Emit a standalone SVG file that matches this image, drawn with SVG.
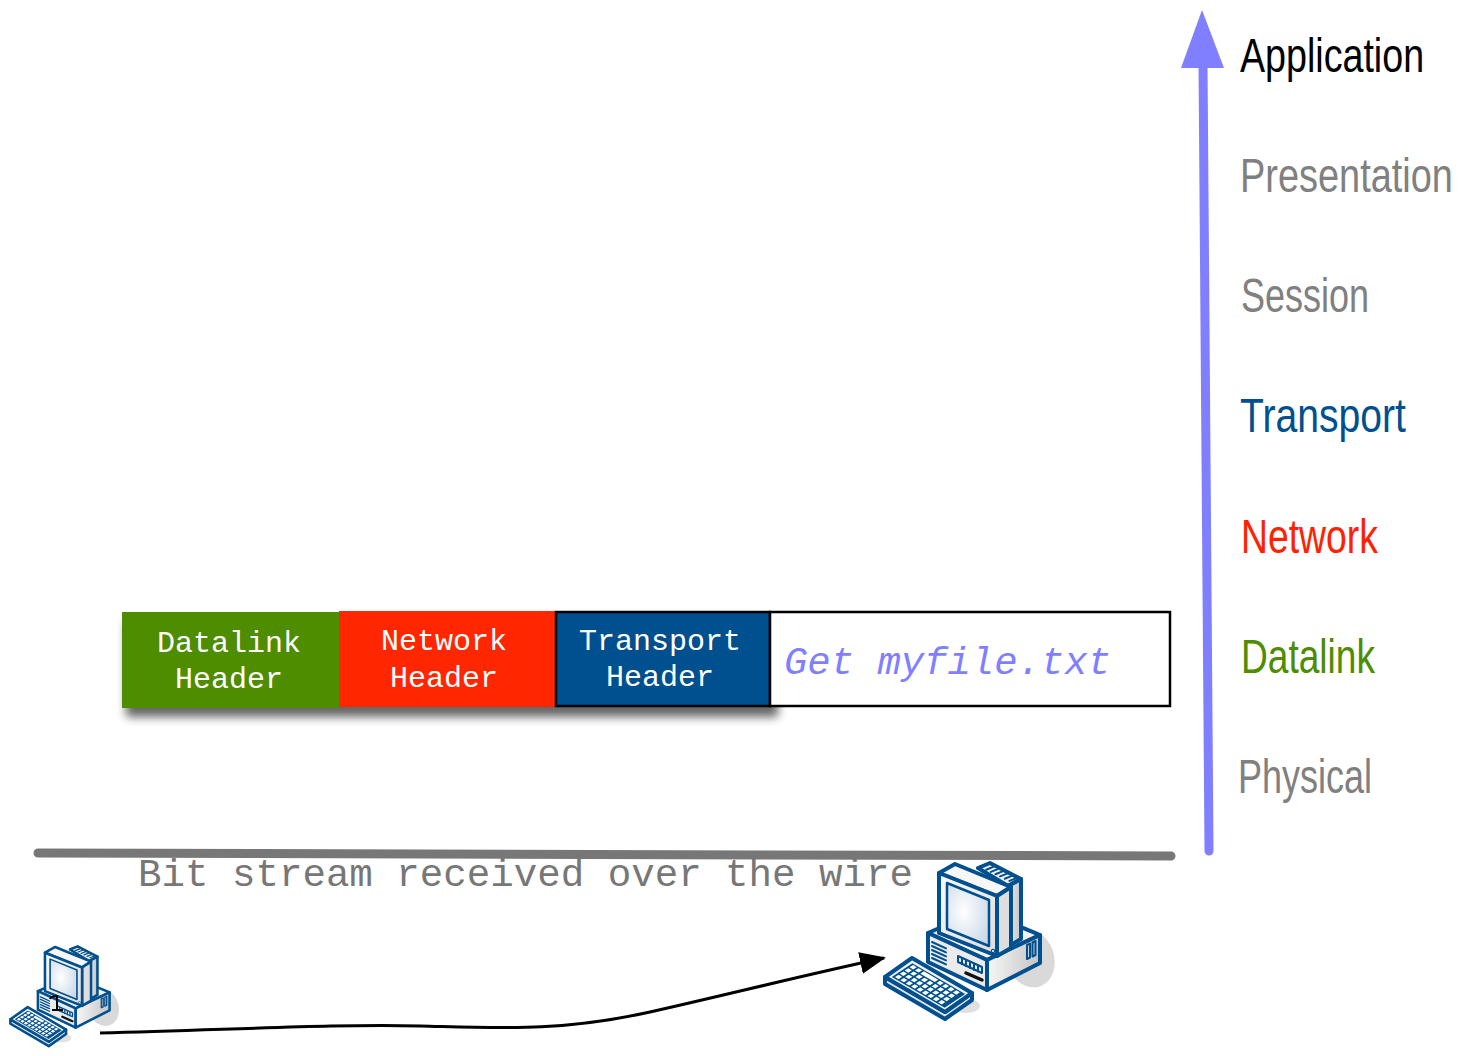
<svg xmlns="http://www.w3.org/2000/svg" xmlns:xlink="http://www.w3.org/1999/xlink" width="1459" height="1056" viewBox="0 0 1459 1056">
  <style>
    .layer { font-family: "Liberation Sans", Arial, sans-serif; font-size: 48px; }
    .hdr { font-family: "Liberation Mono", "DejaVu Sans Mono", monospace; font-size: 30px; fill: #ffffff; text-anchor: middle; }
    .mono { font-family: "Liberation Mono", "DejaVu Sans Mono", monospace; font-size: 39px; }
    .ol { stroke: #00508f; stroke-width: 4; stroke-linejoin: round; stroke-linecap: round; }
    .il { stroke: #00508f; stroke-width: 2; stroke-linejoin: round; stroke-linecap: round; fill: none; }
  </style>
  <defs>
    <marker id="arrow" markerUnits="userSpaceOnUse" markerWidth="26" markerHeight="22" refX="24" refY="11" orient="auto">
      <path d="M0,0 L26,11 L0,22 Z" fill="#000"/>
    </marker>
    <filter id="shadow" x="-10%" y="-30%" width="120%" height="160%">
      <feGaussianBlur stdDeviation="5"/>
    </filter>
    <radialGradient id="screen" cx="0.4" cy="0.45" r="0.7">
      <stop offset="0" stop-color="#ffffff"/>
      <stop offset="1" stop-color="#c9d7e8"/>
    </radialGradient>
    <linearGradient id="sideGrad" x1="0" y1="0" x2="1" y2="0">
      <stop offset="0" stop-color="#f7f7f7"/>
      <stop offset="1" stop-color="#c4c4c4"/>
    </linearGradient>
    <linearGradient id="faceGrad" x1="0" y1="0" x2="1" y2="1">
      <stop offset="0" stop-color="#fafafa"/>
      <stop offset="1" stop-color="#dcdcdc"/>
    </linearGradient>

    <!-- desktop computer icon: base unit, monitor, keyboard -->
    <g id="pc">
      <!-- drop shadows -->
      <ellipse cx="1030" cy="958" rx="24" ry="30" fill="#d9d9d9" transform="rotate(-20 1030 958)"/>
      <ellipse cx="966" cy="1006" rx="14" ry="7" fill="#e0e0e0"/>

      <!-- base unit -->
      <path class="ol" d="M928,933 L980,910 L1040,935 L987,960 Z" fill="#f3f3f3"/>
      <path class="ol" d="M928,933 L987,960 L987,990 L928,962 Z" fill="#ebebeb"/>
      <path class="ol" d="M987,960 L1040,935 L1040,963 L987,990 Z" fill="url(#sideGrad)"/>
      <g class="il">
        <path d="M932,942 L946,948.4 M932,946 L946,952.4 M932,950 L946,956.4 M932,954 L946,960.4 M932,958 L946,964.4"/>
        <path d="M958,956 L982,967 L982,973 L958,962 Z"/>
        <path d="M962,958.5 L962,964 M966,960.3 L966,966 M970,962.2 L970,968 M974,964 L974,970 M978,965.8 L978,971.6"/>
        <path d="M1027,945 L1030,943.6 L1030,957.6 L1027,959 Z"/>
        <path d="M1032.5,942.5 L1035.5,941 L1035.5,955 L1032.5,956.5 Z"/>
      </g>
      <path d="M966,973 L982,980" stroke="#111" stroke-width="3.5" stroke-linecap="round"/>

      <!-- monitor housing -->
      <path class="ol" d="M978,868 L990,863 L1021,879 L1008,886 Z" fill="#f0f0f0"/>
      <path class="il" d="M993.2,866.9 L986.2,869.7 M997.8,869.1 L990.8,871.9 M1002.5,871.4 L995.5,874.2 M1007.1,873.6 L1000.1,876.4 M1011.8,875.9 L1004.8,878.7 M1016.4,878.1 L1009.4,880.9"/>
      <path class="ol" d="M1008,886 L1021,879 L1021,939 L1004,949 L1004,890 Z" fill="url(#sideGrad)"/>
      <!-- monitor bezel -->
      <path class="ol" d="M939,873 L955,864 L1011,887 L997,896 Z" fill="#f7f7f7"/>
      <path class="ol" d="M997,896 L1011,887 L1011,948 L997,956 Z" fill="#dedede"/>
      <path class="ol" d="M939,873 L997,896 L997,956 L939,933 Z" fill="url(#faceGrad)"/>
      <path d="M947,883 L989,900 L989,946 L947,929 Z" fill="url(#screen)" stroke="#00508f" stroke-width="2.5" stroke-linejoin="round"/>
      <circle cx="993" cy="951" r="1.6" fill="#ffffff" stroke="#00508f" stroke-width="1.2"/>

      <!-- keyboard -->
      <path class="ol" d="M885,977 L885,984 L945,1019 L972,1000 L972,993 L945,1012 Z" fill="#e2e2e2"/>
      <path class="ol" d="M885,977 L912,958 L972,993 L945,1012 Z" fill="#f2f2f2"/>
      <g transform="matrix(60,35,27,-18,885,977)">
        <rect x="0.06" y="0.12" width="0.88" height="0.76" fill="#00508f"/>
        <g fill="#ffffff">
          <rect x="0.09" y="0.17" width="0.06" height="0.13"/><rect x="0.18" y="0.17" width="0.06" height="0.13"/><rect x="0.27" y="0.17" width="0.06" height="0.13"/><rect x="0.36" y="0.17" width="0.06" height="0.13"/><rect x="0.45" y="0.17" width="0.06" height="0.13"/><rect x="0.54" y="0.17" width="0.06" height="0.13"/><rect x="0.63" y="0.17" width="0.06" height="0.13"/><rect x="0.72" y="0.17" width="0.06" height="0.13"/><rect x="0.81" y="0.17" width="0.06" height="0.13"/>
          <rect x="0.09" y="0.35" width="0.06" height="0.13"/><rect x="0.18" y="0.35" width="0.06" height="0.13"/><rect x="0.27" y="0.35" width="0.06" height="0.13"/><rect x="0.36" y="0.35" width="0.06" height="0.13"/><rect x="0.45" y="0.35" width="0.06" height="0.13"/><rect x="0.54" y="0.35" width="0.06" height="0.13"/><rect x="0.63" y="0.35" width="0.06" height="0.13"/><rect x="0.72" y="0.35" width="0.06" height="0.13"/><rect x="0.81" y="0.35" width="0.06" height="0.13"/>
          <rect x="0.09" y="0.53" width="0.06" height="0.13"/><rect x="0.18" y="0.53" width="0.06" height="0.13"/><rect x="0.27" y="0.53" width="0.06" height="0.13"/><rect x="0.36" y="0.53" width="0.06" height="0.13"/><rect x="0.45" y="0.53" width="0.06" height="0.13"/><rect x="0.54" y="0.53" width="0.06" height="0.13"/><rect x="0.63" y="0.53" width="0.06" height="0.13"/><rect x="0.72" y="0.53" width="0.06" height="0.13"/><rect x="0.81" y="0.53" width="0.06" height="0.13"/>
          <rect x="0.09" y="0.71" width="0.06" height="0.13"/><rect x="0.18" y="0.71" width="0.06" height="0.13"/><rect x="0.27" y="0.71" width="0.24" height="0.13"/><rect x="0.54" y="0.71" width="0.06" height="0.13"/><rect x="0.63" y="0.71" width="0.06" height="0.13"/><rect x="0.72" y="0.71" width="0.06" height="0.13"/><rect x="0.81" y="0.71" width="0.06" height="0.13"/>
        </g>
      </g>
    </g>
  </defs>

  <!-- OSI layer scale -->
  <g id="layer-axis">
    <path d="M1209,851 L1203,62" stroke="#7f7fff" stroke-width="9" stroke-linecap="round" fill="none"/>
    <path d="M1202,10 L1224,68 L1181,68 Z" fill="#7f7fff"/>
  </g>
  <!-- layer names, horizontally condensed -->
  <g id="layer-labels" class="layer">
    <text transform="translate(1240,72) scale(0.784,1)" fill="#000000" textLength="234.8" lengthAdjust="spacingAndGlyphs">Application</text>
    <text transform="translate(1240,192) scale(0.79,1)" fill="#808080" textLength="269.5" lengthAdjust="spacingAndGlyphs">Presentation</text>
    <text transform="translate(1241,312) scale(0.75,1)" fill="#808080" textLength="170.7" lengthAdjust="spacingAndGlyphs">Session</text>
    <text transform="translate(1240,432) scale(0.808,1)" fill="#00508f" textLength="205.4" lengthAdjust="spacingAndGlyphs">Transport</text>
    <text transform="translate(1241,553) scale(0.778,1)" fill="#ff2200" textLength="176" lengthAdjust="spacingAndGlyphs">Network</text>
    <text transform="translate(1241,673) scale(0.773,1)" fill="#4e8c00" textLength="173.4" lengthAdjust="spacingAndGlyphs">Datalink</text>
    <text transform="translate(1238,793) scale(0.75,1)" fill="#808080" textLength="178.7" lengthAdjust="spacingAndGlyphs">Physical</text>
  </g>

  <!-- frame: headers + payload -->
  <rect x="126" y="621" width="652" height="96" fill="#000" opacity="0.6" filter="url(#shadow)"/>
  <g id="datalink-header">
    <rect x="122" y="612" width="217" height="96" fill="#4e8c00"/>
    <text class="hdr" x="229" y="652">Datalink</text>
    <text class="hdr" x="229" y="688">Header</text>
  </g>
  <g id="network-header">
    <rect x="339" y="611" width="216" height="96" fill="#ff2600"/>
    <text class="hdr" x="444" y="650">Network</text>
    <text class="hdr" x="444" y="687">Header</text>
  </g>
  <g id="transport-header">
    <rect x="556" y="612" width="214" height="94" fill="#00508f" stroke="#000" stroke-width="2.5"/>
    <text class="hdr" x="660" y="650">Transport</text>
    <text class="hdr" x="660" y="686">Header</text>
  </g>
  <g id="payload">
    <rect x="770" y="612" width="400" height="94" fill="#ffffff" stroke="#000" stroke-width="2.5"/>
    <text class="mono" x="784" y="674" fill="#7f7fff" font-style="italic" textLength="327" lengthAdjust="spacingAndGlyphs">Get myfile.txt</text>
  </g>

  <!-- the wire -->
  <g id="wire">
    <path d="M38,853 L1171,856" stroke="#777777" stroke-width="9" stroke-linecap="round"/>
    <text class="mono" x="138" y="886" fill="#777777" textLength="775" lengthAdjust="spacingAndGlyphs">Bit stream received over the wire</text>
  </g>

  <!-- hosts -->
  <g id="sender-pc">
    <use xlink:href="#pc" transform="translate(-556,394) scale(0.64)"/>
    <path d="M50,999 Q51,996 57,996 L57,1010 M52,1010 L63,1010" stroke="#000" stroke-width="2" fill="none"/>
  </g>
  <g id="receiver-pc">
    <use xlink:href="#pc"/>
  </g>

  <!-- connectors -->
  <g id="connectors">
    <path d="M100,1033 C250,1029 340,1024 420,1026 C500,1028 560,1032 650,1012 C730,994 800,976 884,958" stroke="#000" stroke-width="3" fill="none" marker-end="url(#arrow)"/>
  </g>
</svg>
